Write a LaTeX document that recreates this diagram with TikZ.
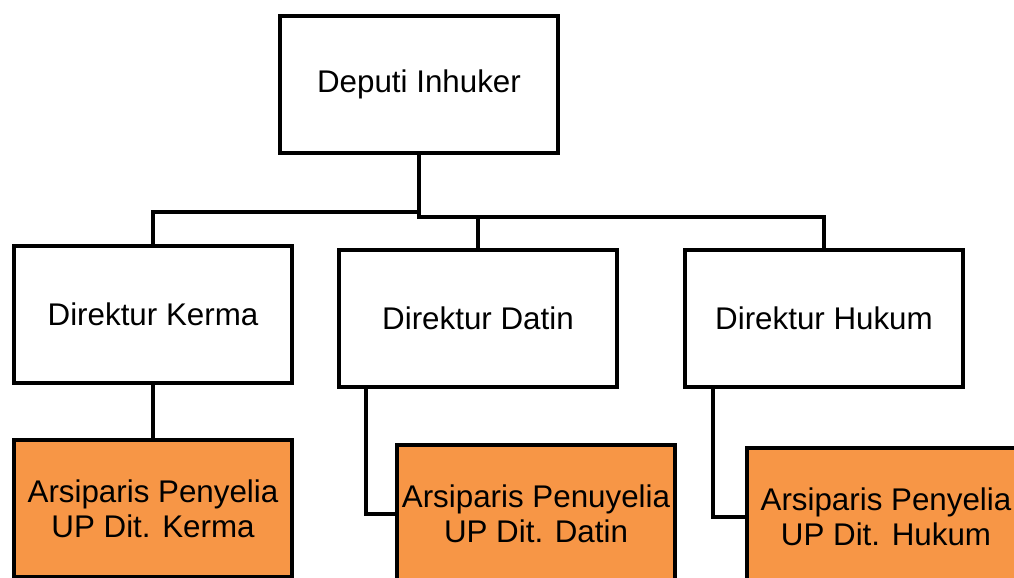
\documentclass[tikz,border=0pt]{standalone}
\usepackage{fontspec}
\setmainfont{Liberation Sans}

\definecolor{oranye}{RGB}{247,150,70}
\tikzset{
  jabatan/.style={draw=black, line width=3pt, fill=white, rectangle, minimum width=208.5pt, minimum height=102.75pt, inner sep=0pt, align=center, font=\fontsize{23.5}{26.5}\selectfont},
  arsiparis/.style={jabatan, fill=oranye},
  garis/.style={draw=black, line width=3pt, line cap=rect}
}

\begin{document}
\begin{tikzpicture}[x=0.75pt,y=0.75pt,yscale=-1,xscale=1]
\useasboundingbox (0,0) rectangle (1014,578);
\clip (0,0) rectangle (1014,578);

%Pimpinan
\node [jabatan] (deputi) at (419,84.5) {Deputi Inhuker};
%Direktur
\node [jabatan] (kerma) at (153,314.5) {Direktur Kerma};
\node [jabatan] (datin) at (478,318) {Direktur Datin};
\node [jabatan] (hukum) at (824,318) {Direktur Hukum};
%Arsiparis
\node [arsiparis] (arsipkerma) at (153,508.5) {Arsiparis Penyelia\\UP Dit. Kerma};
\node [arsiparis] (arsipdatin) at (536,513.5) {Arsiparis Penuyelia\\UP Dit. Datin};
\node [arsiparis] (arsiphukum) at (886,516.5) {Arsiparis Penyelia\\UP Dit. Hukum};

%Garis cabang
\coordinate (cabangkiri) at (419,212);
\coordinate (cabangkanan) at (419,217);
\draw [garis] (deputi.south) -- (cabangkanan);
\draw [garis] (cabangkiri) -| (kerma.north);
\draw [garis] (cabangkanan) -| (hukum.north);
\draw [garis] (cabangkanan -| datin.north) -- (datin.north);

%Garis ke arsiparis
\draw [garis] (kerma.south) -- (arsipkerma.north);
\draw [garis] ([xshift=21.75pt]datin.south west) |- (arsipdatin.west);
\draw [garis] ([xshift=22.5pt]hukum.south west) |- (arsiphukum.west);

\end{tikzpicture}
\end{document}
